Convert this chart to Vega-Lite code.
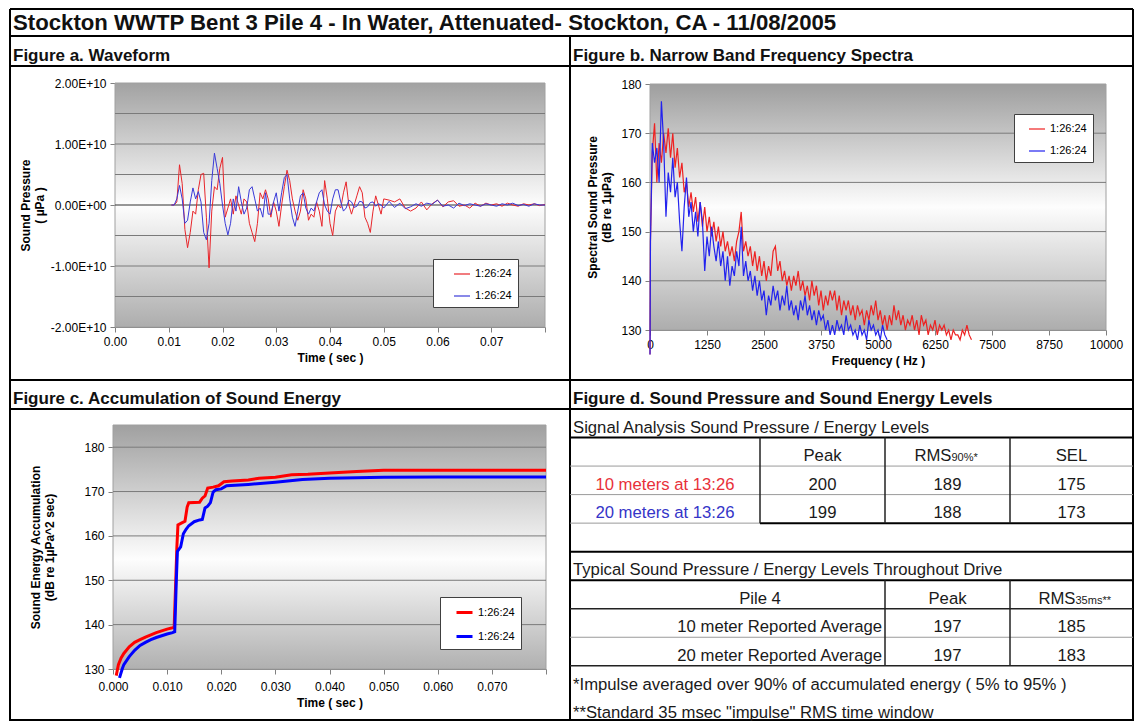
{
"$schema": "https://vega.github.io/schema/vega-lite/v6.json",
"padding": {"left": 9, "top": 8, "right": 2, "bottom": 2},
"background": "white",
"columns": 2,
"spacing": 0,
"bounds": "flush",
"align": "each",
"resolve": {"scale": {"color": "independent"}, "legend": {"color": "independent"}},
"config": {
  "font": "Liberation Sans",
  "view": {"stroke": "#000000", "strokeWidth": 2},
  "axis": {"labelFont": "Liberation Sans", "labelFontSize": 12, "labelColor": "#000000", "titleFont": "Liberation Sans", "titleFontSize": 12, "titleFontWeight": "bold", "titleColor": "#000000", "domainColor": "#808080", "tickColor": "#808080", "grid": false, "tickSize": 5, "labelPadding": 4, "labelFlush": false, "labelOverlap": false, "zindex": 1},
  "legend": {"symbolType": "stroke", "labelFont": "Liberation Sans", "labelFontSize": 11, "labelColor": "#000000", "padding": 6, "rowPadding": 8, "symbolSize": 256, "labelOffset": 4, "strokeColor": "#404040", "fillColor": "#ffffff", "cornerRadius": 0}
},
"datasets": {
  "wave": [
    {"t":0.0105,"r":0,"b":0},{"t":0.011,"r":0,"b":0},{"t":0.0115,"r":0.05e10,"b":0.1e10},{"t":0.012,"r":0.66e10,"b":0.32e10},
    {"t":0.0125,"r":0.35e10,"b":0.1e10},{"t":0.013,"r":-0.4e10,"b":-0.3e10},{"t":0.0135,"r":-0.7e10,"b":-0.25e10},{"t":0.014,"r":-0.45e10,"b":0.05e10},
    {"t":0.0145,"r":-0.1e10,"b":0.28e10},{"t":0.015,"r":-0.15e10,"b":0.1e10},{"t":0.0155,"r":0.25e10,"b":0.22e10},{"t":0.016,"r":0.5e10,"b":0.05e10},
    {"t":0.0165,"r":0.52e10,"b":-0.45e10},{"t":0.017,"r":-0.2e10,"b":-0.57e10},{"t":0.0175,"r":-1.03e10,"b":-0.3e10},{"t":0.018,"r":-0.1e10,"b":0.4e10},
    {"t":0.0185,"r":0.3e10,"b":0.85e10},{"t":0.019,"r":0.25e10,"b":0.6e10},{"t":0.0195,"r":0.6e10,"b":0.35e10},{"t":0.02,"r":0.78e10,"b":0},
    {"t":0.0205,"r":-0.2e10,"b":-0.3e10},{"t":0.021,"r":-0.05e10,"b":-0.49e10},{"t":0.0215,"r":0.1e10,"b":-0.3e10},{"t":0.022,"r":-0.15e10,"b":0.1e10},
    {"t":0.0225,"r":0.15e10,"b":-0.1e10},{"t":0.023,"r":0,"b":0.3e10},{"t":0.0235,"r":-0.15e10,"b":0.05e10},{"t":0.024,"r":0.1e10,"b":-0.15e10},
    {"t":0.0245,"r":0.05e10,"b":-0.05e10},{"t":0.025,"r":-0.3e10,"b":0.25e10},{"t":0.0255,"r":-0.45e10,"b":0.3e10},{"t":0.026,"r":-0.6e10,"b":0.1e10},
    {"t":0.0265,"r":-0.3e10,"b":-0.1e10},{"t":0.027,"r":0.2e10,"b":-0.05e10},{"t":0.0275,"r":0.1e10,"b":-0.2e10},{"t":0.028,"r":0.25e10,"b":0.2e10},
    {"t":0.0285,"r":0.1e10,"b":-0.15e10},{"t":0.029,"r":-0.2e10,"b":-0.15e10},{"t":0.0295,"r":0.05e10,"b":0.05e10},{"t":0.03,"r":-0.1e10,"b":0.2e10},
    {"t":0.0305,"r":-0.35e10,"b":-0.1e10},{"t":0.031,"r":0,"b":0.2e10},{"t":0.0315,"r":0.3e10,"b":0.45e10},{"t":0.032,"r":0.57e10,"b":0.5e10},
    {"t":0.0325,"r":0.4e10,"b":0.1e10},{"t":0.033,"r":0.1e10,"b":-0.2e10},{"t":0.0335,"r":-0.1e10,"b":-0.35e10},{"t":0.034,"r":-0.25e10,"b":-0.1e10},
    {"t":0.0345,"r":-0.1e10,"b":0.15e10},{"t":0.035,"r":0.25e10,"b":0.2e10},{"t":0.0355,"r":0.1e10,"b":-0.05e10},{"t":0.036,"r":-0.25e10,"b":-0.15e10},
    {"t":0.0365,"r":-0.15e10,"b":-0.05e10},{"t":0.037,"r":-0.2e10,"b":-0.1e10},{"t":0.0375,"r":0.05e10,"b":0.05e10},{"t":0.038,"r":-0.1e10,"b":0.2e10},
    {"t":0.0385,"r":-0.35e10,"b":0.25e10},{"t":0.039,"r":0.4e10,"b":0},{"t":0.0395,"r":0.1e10,"b":-0.1e10},{"t":0.04,"r":-0.3e10,"b":-0.15e10},
    {"t":0.0405,"r":-0.5e10,"b":0.1e10},{"t":0.041,"r":-0.1e10,"b":0.25e10},{"t":0.0415,"r":0,"b":0.25e10},{"t":0.042,"r":-0.05e10,"b":0.05e10},
    {"t":0.0425,"r":0.2e10,"b":-0.1e10},{"t":0.043,"r":0.38e10,"b":-0.05e10},{"t":0.0435,"r":0,"b":0.08e10},{"t":0.044,"r":-0.15e10,"b":0.05e10},
    {"t":0.0445,"r":0,"b":-0.04e10},{"t":0.045,"r":0.15e10,"b":-0.02e10},{"t":0.0455,"r":0.3e10,"b":0.06e10},{"t":0.046,"r":0.2e10,"b":0.05e10},
    {"t":0.0465,"r":-0.2e10,"b":-0.05e10},{"t":0.047,"r":-0.3e10,"b":-0.03e10},{"t":0.0475,"r":-0.45e10,"b":0.04e10},{"t":0.048,"r":-0.1e10,"b":0.05e10},
    {"t":0.0485,"r":0.15e10,"b":-0.02e10},{"t":0.049,"r":0,"b":0.02e10},{"t":0.0495,"r":-0.15e10,"b":0},{"t":0.05,"r":0.1e10,"b":-0.05e10},
    {"t":0.051,"r":0.08e10,"b":0.06e10},{"t":0.052,"r":0.05e10,"b":-0.04e10},{"t":0.053,"r":0.1e10,"b":0.03e10},{"t":0.054,"r":-0.05e10,"b":-0.06e10},
    {"t":0.055,"r":-0.1e10,"b":-0.03e10},{"t":0.056,"r":-0.05e10,"b":0.02e10},{"t":0.057,"r":0.05e10,"b":-0.02e10},{"t":0.058,"r":-0.08e10,"b":0.03e10},
    {"t":0.059,"r":0.02e10,"b":0.01e10},{"t":0.06,"r":0.08e10,"b":0.08e10},{"t":0.061,"r":-0.03e10,"b":-0.02e10},{"t":0.062,"r":0.05e10,"b":0},
    {"t":0.063,"r":0.07e10,"b":-0.05e10},{"t":0.064,"r":-0.02e10,"b":0.03e10},{"t":0.065,"r":0,"b":-0.01e10},{"t":0.066,"r":-0.05e10,"b":0.02e10},
    {"t":0.067,"r":0.03e10,"b":0},{"t":0.068,"r":-0.02e10,"b":-0.02e10},{"t":0.069,"r":0.03e10,"b":0.02e10},{"t":0.07,"r":0,"b":0},
    {"t":0.071,"r":0.02e10,"b":-0.02e10},{"t":0.072,"r":-0.02e10,"b":0.02e10},{"t":0.073,"r":0.03e10,"b":0},{"t":0.074,"r":0,"b":0.03e10},
    {"t":0.075,"r":-0.02e10,"b":-0.01e10},{"t":0.076,"r":0.02e10,"b":0.01e10},{"t":0.077,"r":0,"b":-0.02e10},{"t":0.078,"r":0.02e10,"b":0.02e10},
    {"t":0.079,"r":-0.01e10,"b":0},{"t":0.08,"r":0.01e10,"b":0}
  ],
  "spec": [
    {"f":0,"r":125,"b":125},{"f":10,"r":148,"b":148},{"f":50,"r":166,"b":168},{"f":100,"r":172,"b":164},{"f":150,"r":160,"b":167},
    {"f":200,"r":168,"b":160},{"f":250,"r":164,"b":176.5},{"f":300,"r":170,"b":168},{"f":350,"r":166,"b":153},{"f":400,"r":171,"b":162},
    {"f":450,"r":165,"b":158},{"f":500,"r":170,"b":165},{"f":550,"r":163,"b":157},{"f":600,"r":167,"b":160},{"f":650,"r":161,"b":152},
    {"f":700,"r":164,"b":146},{"f":750,"r":158,"b":155},{"f":800,"r":160,"b":161},{"f":850,"r":155,"b":153},{"f":900,"r":158,"b":156},
    {"f":950,"r":154,"b":150},{"f":1000,"r":157,"b":154},{"f":1050,"r":152,"b":149},{"f":1100,"r":156,"b":156},{"f":1150,"r":151,"b":152},
    {"f":1200,"r":155,"b":142},{"f":1250,"r":150,"b":149},{"f":1300,"r":153,"b":145},{"f":1350,"r":149,"b":151},{"f":1400,"r":152,"b":147},
    {"f":1450,"r":148,"b":144},{"f":1500,"r":151,"b":148},{"f":1550,"r":147,"b":143},{"f":1600,"r":150,"b":146},{"f":1650,"r":146,"b":140},
    {"f":1700,"r":148,"b":145},{"f":1750,"r":145,"b":139},{"f":1800,"r":147,"b":143},{"f":1850,"r":144,"b":141},{"f":1900,"r":148,"b":146},
    {"f":1950,"r":150,"b":143},{"f":2000,"r":154,"b":151},{"f":2050,"r":146,"b":141},{"f":2100,"r":148,"b":144},{"f":2150,"r":145,"b":140},
    {"f":2200,"r":147,"b":142},{"f":2250,"r":143,"b":138},{"f":2300,"r":146,"b":141},{"f":2350,"r":142,"b":137},{"f":2400,"r":145,"b":140},
    {"f":2450,"r":141,"b":136},{"f":2500,"r":144,"b":138},{"f":2550,"r":140,"b":133},{"f":2600,"r":143,"b":137},{"f":2650,"r":141,"b":135},
    {"f":2700,"r":146,"b":139},{"f":2750,"r":147,"b":136},{"f":2800,"r":142,"b":138},{"f":2850,"r":144,"b":134},{"f":2900,"r":140,"b":137},
    {"f":2950,"r":142,"b":135},{"f":3000,"r":139,"b":139},{"f":3050,"r":141,"b":134},{"f":3100,"r":138,"b":136},{"f":3150,"r":141,"b":133},
    {"f":3200,"r":139,"b":135},{"f":3250,"r":142,"b":132},{"f":3300,"r":138,"b":136},{"f":3350,"r":140,"b":134},{"f":3400,"r":137,"b":137},
    {"f":3450,"r":139,"b":133},{"f":3500,"r":136,"b":135},{"f":3550,"r":140,"b":132},{"f":3600,"r":137,"b":134},{"f":3650,"r":139,"b":131},
    {"f":3700,"r":135,"b":134},{"f":3750,"r":138,"b":132},{"f":3800,"r":134,"b":133},{"f":3850,"r":137,"b":130},{"f":3900,"r":135,"b":132},
    {"f":3950,"r":138,"b":129},{"f":4000,"r":136,"b":131},{"f":4050,"r":138,"b":129},{"f":4100,"r":134,"b":132},{"f":4150,"r":137,"b":130},
    {"f":4200,"r":133,"b":131},{"f":4250,"r":136,"b":129},{"f":4300,"r":134,"b":133},{"f":4350,"r":136,"b":130},{"f":4400,"r":133,"b":131},
    {"f":4450,"r":135,"b":129},{"f":4500,"r":132,"b":130},{"f":4550,"r":135,"b":128},{"f":4600,"r":133,"b":131},{"f":4650,"r":134,"b":129},
    {"f":4700,"r":131,"b":130},{"f":4750,"r":134,"b":128},{"f":4800,"r":132,"b":132},{"f":4850,"r":135,"b":130},{"f":4900,"r":133,"b":131},
    {"f":4950,"r":136,"b":129},{"f":5000,"r":132,"b":130},{"f":5050,"r":134,"b":128},{"f":5100,"r":131,"b":131},{"f":5150,"r":133,"b":129},
    {"f":5200,"r":130,"b":128},{"f":5250,"r":133},{"f":5300,"r":131},{"f":5350,"r":135},{"f":5400,"r":132},{"f":5450,"r":134},
    {"f":5500,"r":131},{"f":5550,"r":133},{"f":5600,"r":130},{"f":5650,"r":132},{"f":5700,"r":131},{"f":5750,"r":133},{"f":5800,"r":130},
    {"f":5850,"r":132},{"f":5900,"r":129},{"f":5950,"r":133},{"f":6000,"r":131},{"f":6050,"r":132},{"f":6100,"r":129},{"f":6150,"r":131},
    {"f":6200,"r":130},{"f":6250,"r":132},{"f":6300,"r":129},{"f":6350,"r":131},{"f":6400,"r":130},{"f":6450,"r":131},{"f":6500,"r":129},
    {"f":6550,"r":130},{"f":6600,"r":128},{"f":6650,"r":130},{"f":6700,"r":129},{"f":6750,"r":129},{"f":6800,"r":128},{"f":6850,"r":130},
    {"f":6900,"r":129},{"f":6950,"r":131},{"f":7000,"r":129},{"f":7050,"r":128}
  ],
  "acc": [
    {"t":0.0006,"s":"r","db":128.5},{"t":0.001,"s":"r","db":131},{"t":0.0015,"s":"r","db":132.5},{"t":0.002,"s":"r","db":133.5},
    {"t":0.003,"s":"r","db":135},{"t":0.004,"s":"r","db":136},{"t":0.005,"s":"r","db":136.6},{"t":0.006,"s":"r","db":137.2},
    {"t":0.007,"s":"r","db":137.7},{"t":0.008,"s":"r","db":138.2},{"t":0.009,"s":"r","db":138.6},{"t":0.01,"s":"r","db":139},
    {"t":0.011,"s":"r","db":139.3},{"t":0.0113,"s":"r","db":139.4},{"t":0.0116,"s":"r","db":150},{"t":0.0118,"s":"r","db":157.5},
    {"t":0.012,"s":"r","db":162.5},{"t":0.0128,"s":"r","db":163},{"t":0.0133,"s":"r","db":163.3},{"t":0.0137,"s":"r","db":166.5},
    {"t":0.014,"s":"r","db":167.5},{"t":0.016,"s":"r","db":167.6},{"t":0.0165,"s":"r","db":168.5},{"t":0.017,"s":"r","db":169},
    {"t":0.0175,"s":"r","db":170.8},{"t":0.0185,"s":"r","db":171},{"t":0.0195,"s":"r","db":171.3},{"t":0.0205,"s":"r","db":172.2},
    {"t":0.022,"s":"r","db":172.4},{"t":0.025,"s":"r","db":172.6},{"t":0.027,"s":"r","db":173},{"t":0.03,"s":"r","db":173.2},
    {"t":0.033,"s":"r","db":173.8},{"t":0.036,"s":"r","db":173.9},{"t":0.04,"s":"r","db":174.2},{"t":0.045,"s":"r","db":174.5},
    {"t":0.05,"s":"r","db":174.8},{"t":0.06,"s":"r","db":174.8},{"t":0.07,"s":"r","db":174.8},{"t":0.08,"s":"r","db":174.8},
    {"t":0.0012,"s":"b","db":128},{"t":0.0017,"s":"b","db":130},{"t":0.002,"s":"b","db":131},{"t":0.003,"s":"b","db":132.8},
    {"t":0.004,"s":"b","db":134.2},{"t":0.005,"s":"b","db":135.3},{"t":0.006,"s":"b","db":136},{"t":0.007,"s":"b","db":136.6},
    {"t":0.008,"s":"b","db":137.1},{"t":0.009,"s":"b","db":137.5},{"t":0.01,"s":"b","db":137.9},{"t":0.011,"s":"b","db":138.2},
    {"t":0.0114,"s":"b","db":138.4},{"t":0.0117,"s":"b","db":150},{"t":0.0119,"s":"b","db":156.5},{"t":0.0125,"s":"b","db":157.5},
    {"t":0.013,"s":"b","db":160.5},{"t":0.0135,"s":"b","db":161.5},{"t":0.014,"s":"b","db":162.3},{"t":0.015,"s":"b","db":163.2},
    {"t":0.016,"s":"b","db":163.6},{"t":0.0165,"s":"b","db":163.7},{"t":0.017,"s":"b","db":166.3},{"t":0.0175,"s":"b","db":166.7},
    {"t":0.018,"s":"b","db":167.5},{"t":0.0185,"s":"b","db":169.9},{"t":0.019,"s":"b","db":170.4},{"t":0.02,"s":"b","db":170.6},
    {"t":0.021,"s":"b","db":171.3},{"t":0.025,"s":"b","db":171.6},{"t":0.03,"s":"b","db":172.1},{"t":0.035,"s":"b","db":172.7},
    {"t":0.04,"s":"b","db":173},{"t":0.05,"s":"b","db":173.2},{"t":0.06,"s":"b","db":173.3},{"t":0.07,"s":"b","db":173.3},{"t":0.08,"s":"b","db":173.3}
  ],
  "tlines": [
    {"dir":"h","k":"major","at":0.5,"from":0,"to":4},
    {"dir":"h","k":"minor","at":1.5,"from":0,"to":4},
    {"dir":"h","k":"minor","at":2.5,"from":0,"to":4},
    {"dir":"h","k":"major","at":3.5,"from":1,"to":4},
    {"dir":"h","k":"minor","at":3.5,"from":0,"to":1},
    {"dir":"h","k":"major","at":4.5,"from":0,"to":4},
    {"dir":"h","k":"major","at":5.5,"from":0,"to":4},
    {"dir":"h","k":"mid","at":6.5,"from":0,"to":4},
    {"dir":"h","k":"minor","at":7.5,"from":0,"to":4},
    {"dir":"h","k":"mid","at":8.5,"from":0,"to":4},
    {"dir":"v","k":"mid","at":1,"from":0.5,"to":3.5},
    {"dir":"v","k":"mid","at":2,"from":0.5,"to":3.5},
    {"dir":"v","k":"mid","at":3,"from":0.5,"to":3.5},
    {"dir":"v","k":"mid","at":2,"from":5.5,"to":8.5},
    {"dir":"v","k":"mid","at":3,"from":5.5,"to":8.5}
  ],
  "cells": [
    {"row":0,"col":0,"txt":"Signal Analysis Sound Pressure / Energy Levels","role":"caption"},
    {"row":1,"col":1.5,"txt":"Peak","role":"cell"},
    {"row":1,"col":2.5,"txt":"RMS","role":"rms"},
    {"row":1,"col":2.5,"txt":"90%*","role":"sub"},
    {"row":1,"col":3.5,"txt":"SEL","role":"cell"},
    {"row":2,"col":0.5,"txt":"10 meters at 13:26","role":"cell","who":"10 m"},
    {"row":2,"col":1.5,"txt":"200","role":"cell"},
    {"row":2,"col":2.5,"txt":"189","role":"cell"},
    {"row":2,"col":3.5,"txt":"175","role":"cell"},
    {"row":3,"col":0.5,"txt":"20 meters at 13:26","role":"cell","who":"20 m"},
    {"row":3,"col":1.5,"txt":"199","role":"cell"},
    {"row":3,"col":2.5,"txt":"188","role":"cell"},
    {"row":3,"col":3.5,"txt":"173","role":"cell"},
    {"row":5,"col":0,"txt":"Typical Sound Pressure / Energy Levels Throughout Drive","role":"caption"},
    {"row":6,"col":1,"txt":"Pile 4","role":"cell"},
    {"row":6,"col":2.5,"txt":"Peak","role":"cell"},
    {"row":6,"col":3.5,"txt":"RMS","role":"rms"},
    {"row":6,"col":3.5,"txt":"35ms**","role":"sub"},
    {"row":7,"col":2,"txt":"10 meter Reported Average","role":"rowlabel"},
    {"row":7,"col":2.5,"txt":"197","role":"cell"},
    {"row":7,"col":3.5,"txt":"185","role":"cell"},
    {"row":8,"col":2,"txt":"20 meter Reported Average","role":"rowlabel"},
    {"row":8,"col":2.5,"txt":"197","role":"cell"},
    {"row":8,"col":3.5,"txt":"183","role":"cell"},
    {"row":9,"col":0,"txt":"*Impulse averaged over 90% of accumulated energy ( 5% to 95% )","role":"caption"},
    {"row":10,"col":0,"txt":"**Standard 35 msec \"impulse\" RMS time window","role":"caption"}
  ]
},
"concat": [
  {
    "width": 560, "height": 27,
    "view": {"stroke": null},
    "layer": [
      {
        "data": {"values": [{"label": "Stockton WWTP Bent 3 Pile 4 - In Water, Attenuated- Stockton, CA - 11/08/2005"}]},
        "mark": {"type": "text", "align": "left", "baseline": "alphabetic", "dx": 3, "dy": 7.5, "fontSize": 22.2, "fontWeight": "bold", "color": "#111111"},
        "encoding": {
          "x": {"datum": 0, "type": "quantitative", "scale": {"domain": [0, 1]}, "axis": null},
          "y": {"datum": 0.5, "type": "quantitative", "scale": {"domain": [0, 1]}, "axis": null},
          "text": {"field": "label"}
        }
      },
      {
        "data": {"values": [{"edge": "top"}]},
        "mark": {"type": "rule", "color": "#000000", "strokeWidth": 2},
        "encoding": {"y": {"datum": 1, "type": "quantitative", "axis": null}}
      },
      {
        "data": {"values": [{"edge": "left"}]},
        "mark": {"type": "rule", "color": "#000000", "strokeWidth": 2},
        "encoding": {"x": {"datum": 0, "type": "quantitative", "axis": null}}
      }
    ]
  },
  {
    "width": 563, "height": 27,
    "view": {"stroke": null},
    "layer": [
      {
        "data": {"values": [{"edge": "top"}]},
        "mark": {"type": "rule", "color": "#000000", "strokeWidth": 2},
        "encoding": {"y": {"datum": 1, "type": "quantitative", "scale": {"domain": [0, 1]}, "axis": null}}
      },
      {
        "data": {"values": [{"edge": "right"}]},
        "mark": {"type": "rule", "color": "#000000", "strokeWidth": 2},
        "encoding": {"x": {"datum": 1, "type": "quantitative", "scale": {"domain": [0, 1]}, "axis": null}}
      }
    ]
  },
  {
    "width": 560, "height": 30,
    "data": {"values": [{"label": "Figure a. Waveform"}]},
    "mark": {"type": "text", "align": "left", "baseline": "alphabetic", "dx": 3, "dy": 10, "fontSize": 17, "fontWeight": "bold", "color": "#111111"},
    "encoding": {
      "x": {"datum": 0, "type": "quantitative", "scale": {"domain": [0, 1]}, "axis": null},
      "y": {"datum": 0.5, "type": "quantitative", "scale": {"domain": [0, 1]}, "axis": null},
      "text": {"field": "label"}
    }
  },
  {
    "width": 563, "height": 30,
    "data": {"values": [{"label": "Figure b. Narrow Band Frequency Spectra"}]},
    "mark": {"type": "text", "align": "left", "baseline": "alphabetic", "dx": 3, "dy": 10, "fontSize": 17, "fontWeight": "bold", "color": "#111111"},
    "encoding": {
      "x": {"datum": 0, "type": "quantitative", "scale": {"domain": [0, 1]}, "axis": null},
      "y": {"datum": 0.5, "type": "quantitative", "scale": {"domain": [0, 1]}, "axis": null},
      "text": {"field": "label"}
    }
  },
  {
    "width": 560, "height": 314,
    "layer": [
      {
        "data": {"values": [{"region": "plot area"}]},
        "mark": {"type": "rect", "fill": {"x1": 0, "y1": 0, "x2": 0, "y2": 1, "gradient": "linear", "stops": [{"offset": 0, "color": "#a2a2a2"}, {"offset": 0.5, "color": "#fdfdfd"}, {"offset": 1, "color": "#adadad"}]}, "stroke": "#a0a0a0", "strokeWidth": 1},
        "encoding": {
          "x": {"datum": 0, "type": "quantitative"},
          "x2": {"datum": 0.08},
          "y": {"datum": -2e10, "type": "quantitative"},
          "y2": {"datum": 2e10}
        }
      },
      {
        "data": {"values": [{"g": -1.5e10}, {"g": -1e10}, {"g": -0.5e10}, {"g": 0}, {"g": 0.5e10}, {"g": 1e10}, {"g": 1.5e10}]},
        "mark": {"type": "rule", "strokeWidth": 1},
        "encoding": {
          "y": {"field": "g", "type": "quantitative"},
          "x": {"datum": 0, "type": "quantitative"},
          "x2": {"datum": 0.08},
          "color": {"condition": {"test": "datum.g == 0", "value": "#303030"}, "value": "#7a7a7a"}
        }
      },
      {
        "data": {"name": "wave"},
        "transform": [{"fold": ["r", "b"], "as": ["s", "p"]}],
        "mark": {"type": "line", "strokeWidth": 1, "clip": true},
        "encoding": {
          "x": {"field": "t", "type": "quantitative", "scale": {"domain": [0, 0.08], "range": [105, 535], "nice": false, "zero": false},
            "axis": {"title": "Time ( sec )", "values": [0,0.005,0.01,0.015,0.02,0.025,0.03,0.035,0.04,0.045,0.05,0.055,0.06,0.065,0.07,0.075,0.08],
              "labelExpr": "(round(datum.value*1000) % 10 == 0 && datum.value < 0.075) ? format(datum.value, '.2f') : ''",
              "offset": -53, "titlePadding": 5}},
          "y": {"field": "p", "type": "quantitative", "scale": {"domain": [-2e10, 2e10], "range": [261, 17], "nice": false, "zero": false},
            "axis": {"title": ["Sound Pressure", "( µPa )"], "values": [-2e10, -1e10, 0, 1e10, 2e10],
              "labelExpr": "datum.value == 0 ? '0.00E+00' : (datum.value < 0 ? '-' : '') + format(abs(datum.value) / 10000000000, '.2f') + 'E+10'",
              "offset": -105, "titlePadding": 4}},
          "color": {"field": "s", "type": "nominal", "scale": {"domain": ["r", "b"], "range": ["#e8262b", "#3a3ad8"]},
            "legend": {"orient": "none", "legendX": 423, "legendY": 193, "title": null, "labelExpr": "'1:26:24'", "symbolOffset": 14, "symbolStrokeWidth": 1.2}}
        }
      }
    ]
  },
  {
    "width": 563, "height": 314,
    "layer": [
      {
        "data": {"values": [{"region": "plot area"}]},
        "mark": {"type": "rect", "fill": {"x1": 0, "y1": 0, "x2": 0, "y2": 1, "gradient": "linear", "stops": [{"offset": 0, "color": "#9e9e9e"}, {"offset": 0.5, "color": "#fdfdfd"}, {"offset": 1, "color": "#adadad"}]}, "stroke": "#a0a0a0", "strokeWidth": 1},
        "encoding": {
          "x": {"datum": 0, "type": "quantitative"},
          "x2": {"datum": 10000},
          "y": {"datum": 130, "type": "quantitative"},
          "y2": {"datum": 180}
        }
      },
      {
        "data": {"values": [{"g": 140}, {"g": 150}, {"g": 160}, {"g": 170}]},
        "mark": {"type": "rule", "strokeWidth": 1, "color": "#7a7a7a"},
        "encoding": {
          "y": {"field": "g", "type": "quantitative"},
          "x": {"datum": 0, "type": "quantitative"},
          "x2": {"datum": 10000}
        }
      },
      {
        "data": {"name": "spec"},
        "transform": [{"fold": ["r", "b"], "as": ["s", "db"]}, {"filter": "isValid(datum.db)"}],
        "mark": {"type": "line", "strokeWidth": 1.2, "clip": true},
        "encoding": {
          "x": {"field": "f", "type": "quantitative", "scale": {"domain": [0, 10000], "range": [80, 536], "nice": false, "zero": false},
            "axis": {"title": "Frequency ( Hz )", "values": [0,625,1250,1875,2500,3125,3750,4375,5000,5625,6250,6875,7500,8125,8750,9375,10000],
              "labelExpr": "datum.value % 1250 == 0 ? format(datum.value, 'd') : ''",
              "offset": -50, "titlePadding": 5}},
          "y": {"field": "db", "type": "quantitative", "scale": {"domain": [130, 180], "range": [264, 18], "nice": false, "zero": false},
            "axis": {"title": ["Spectral Sound Pressure", "(dB re 1µPa)"], "values": [130, 140, 150, 160, 170, 180],
              "offset": -80, "titlePadding": 7}},
          "color": {"field": "s", "type": "nominal", "scale": {"domain": ["r", "b"], "range": ["#ee2222", "#2222ee"]},
            "legend": {"orient": "none", "legendX": 444, "legendY": 48, "title": null, "labelExpr": "'1:26:24'", "symbolOffset": 8, "symbolStrokeWidth": 1.2}}
        }
      }
    ]
  },
  {
    "width": 560, "height": 29,
    "data": {"values": [{"label": "Figure c. Accumulation of Sound Energy"}]},
    "mark": {"type": "text", "align": "left", "baseline": "alphabetic", "dx": 3, "dy": 9.5, "fontSize": 17, "fontWeight": "bold", "color": "#111111"},
    "encoding": {
      "x": {"datum": 0, "type": "quantitative", "scale": {"domain": [0, 1]}, "axis": null},
      "y": {"datum": 0.5, "type": "quantitative", "scale": {"domain": [0, 1]}, "axis": null},
      "text": {"field": "label"}
    }
  },
  {
    "width": 563, "height": 29,
    "data": {"values": [{"label": "Figure d. Sound Pressure and Sound Energy Levels"}]},
    "mark": {"type": "text", "align": "left", "baseline": "alphabetic", "dx": 3, "dy": 9.5, "fontSize": 17, "fontWeight": "bold", "color": "#111111"},
    "encoding": {
      "x": {"datum": 0, "type": "quantitative", "scale": {"domain": [0, 1]}, "axis": null},
      "y": {"datum": 0.5, "type": "quantitative", "scale": {"domain": [0, 1]}, "axis": null},
      "text": {"field": "label"}
    }
  },
  {
    "width": 560, "height": 311,
    "layer": [
      {
        "data": {"values": [{"region": "plot area"}]},
        "mark": {"type": "rect", "fill": {"x1": 0, "y1": 0, "x2": 0, "y2": 1, "gradient": "linear", "stops": [{"offset": 0, "color": "#a0a0a0"}, {"offset": 0.55, "color": "#fdfdfd"}, {"offset": 1, "color": "#b0b0b0"}]}, "stroke": "#a0a0a0", "strokeWidth": 1},
        "encoding": {
          "x": {"datum": 0, "type": "quantitative"},
          "x2": {"datum": 0.08},
          "y": {"datum": 130, "type": "quantitative"},
          "y2": {"datum": 185}
        }
      },
      {
        "data": {"values": [{"g": 140}, {"g": 150}, {"g": 160}, {"g": 170}, {"g": 180}]},
        "mark": {"type": "rule", "strokeWidth": 1, "color": "#7a7a7a"},
        "encoding": {
          "y": {"field": "g", "type": "quantitative"},
          "x": {"datum": 0, "type": "quantitative"},
          "x2": {"datum": 0.08}
        }
      },
      {
        "data": {"name": "acc"},
        "mark": {"type": "line", "strokeWidth": 3, "clip": true},
        "encoding": {
          "x": {"field": "t", "type": "quantitative", "scale": {"domain": [0, 0.08], "range": [103, 536], "nice": false, "zero": false},
            "axis": {"title": "Time ( sec )", "values": [0,0.005,0.01,0.015,0.02,0.025,0.03,0.035,0.04,0.045,0.05,0.055,0.06,0.065,0.07,0.075,0.08],
              "labelExpr": "(round(datum.value*1000) % 10 == 0 && datum.value < 0.075) ? format(datum.value, '.3f') : ''",
              "offset": -51, "labelPadding": 7, "titlePadding": 5}},
          "y": {"field": "db", "type": "quantitative", "scale": {"domain": [130, 185], "range": [260, 16], "nice": false, "zero": false},
            "axis": {"title": ["Sound Energy Accumulation", "(dB re 1µPa^2 sec)"], "values": [130, 140, 150, 160, 170, 180],
              "offset": -103, "titlePadding": 27}},
          "color": {"field": "s", "type": "nominal", "scale": {"domain": ["r", "b"], "range": ["#ff0000", "#0000ff"]},
            "legend": {"orient": "none", "legendX": 430, "legendY": 188, "title": null, "labelExpr": "'1:26:24'", "symbolOffset": 9, "symbolStrokeWidth": 3}}
        }
      }
    ]
  },
  {
    "width": 563, "height": 311,
    "layer": [
      {
        "data": {"name": "tlines"},
        "transform": [{"filter": "datum.dir == 'h' && datum.k == 'major'"}],
        "mark": {"type": "rule", "strokeWidth": 2, "color": "#000000"},
        "encoding": {
          "x": {"field": "from", "type": "quantitative", "scale": {"domain": [0, 1, 2, 3, 4], "range": [0, 190, 315, 440, 563], "nice": false, "zero": false}, "axis": null},
          "x2": {"field": "to"},
          "y": {"field": "at", "type": "quantitative", "scale": {"domain": [-0.5, 10.4], "range": [0, 311], "nice": false, "zero": false}, "axis": null}
        }
      },
      {
        "data": {"name": "tlines"},
        "transform": [{"filter": "datum.dir == 'h' && datum.k == 'mid'"}],
        "mark": {"type": "rule", "strokeWidth": 1.5, "color": "#222222"},
        "encoding": {
          "x": {"field": "from", "type": "quantitative", "axis": null},
          "x2": {"field": "to"},
          "y": {"field": "at", "type": "quantitative", "axis": null}
        }
      },
      {
        "data": {"name": "tlines"},
        "transform": [{"filter": "datum.dir == 'h' && datum.k == 'minor'"}],
        "mark": {"type": "rule", "strokeWidth": 1, "color": "#9a9a9a"},
        "encoding": {
          "x": {"field": "from", "type": "quantitative", "axis": null},
          "x2": {"field": "to"},
          "y": {"field": "at", "type": "quantitative", "axis": null}
        }
      },
      {
        "data": {"name": "tlines"},
        "transform": [{"filter": "datum.dir == 'v'"}],
        "mark": {"type": "rule", "strokeWidth": 1.5, "color": "#222222"},
        "encoding": {
          "x": {"field": "at", "type": "quantitative", "axis": null},
          "y": {"field": "from", "type": "quantitative", "axis": null},
          "y2": {"field": "to"}
        }
      },
      {
        "data": {"name": "cells"},
        "transform": [{"filter": "datum.role == 'caption'"}],
        "mark": {"type": "text", "align": "left", "baseline": "alphabetic", "dx": 3, "dy": 9.5, "fontSize": 16.7, "color": "#1a1a1a"},
        "encoding": {
          "x": {"field": "col", "type": "quantitative", "axis": null},
          "y": {"field": "row", "type": "quantitative", "axis": null},
          "text": {"field": "txt"}
        }
      },
      {
        "data": {"name": "cells"},
        "transform": [{"filter": "datum.role == 'cell'"}],
        "mark": {"type": "text", "align": "center", "baseline": "alphabetic", "dy": 9.5, "fontSize": 16.7},
        "encoding": {
          "x": {"field": "col", "type": "quantitative", "axis": null},
          "y": {"field": "row", "type": "quantitative", "axis": null},
          "text": {"field": "txt"},
          "color": {"condition": [{"test": "datum.who == '10 m'", "value": "#e8313a"}, {"test": "datum.who == '20 m'", "value": "#3535c8"}], "value": "#1a1a1a"}
        }
      },
      {
        "data": {"name": "cells"},
        "transform": [{"filter": "datum.role == 'rowlabel'"}],
        "mark": {"type": "text", "align": "right", "baseline": "alphabetic", "dx": -3, "dy": 9.5, "fontSize": 16.7, "color": "#1a1a1a"},
        "encoding": {
          "x": {"field": "col", "type": "quantitative", "axis": null},
          "y": {"field": "row", "type": "quantitative", "axis": null},
          "text": {"field": "txt"}
        }
      },
      {
        "data": {"name": "cells"},
        "transform": [{"filter": "datum.role == 'rms'"}],
        "mark": {"type": "text", "align": "right", "baseline": "alphabetic", "dx": 4, "dy": 9.5, "fontSize": 16.7, "color": "#1a1a1a"},
        "encoding": {
          "x": {"field": "col", "type": "quantitative", "axis": null},
          "y": {"field": "row", "type": "quantitative", "axis": null},
          "text": {"field": "txt"}
        }
      },
      {
        "data": {"name": "cells"},
        "transform": [{"filter": "datum.role == 'sub'"}],
        "mark": {"type": "text", "align": "left", "baseline": "alphabetic", "dx": 4, "dy": 9.5, "fontSize": 11, "color": "#1a1a1a"},
        "encoding": {
          "x": {"field": "col", "type": "quantitative", "axis": null},
          "y": {"field": "row", "type": "quantitative", "axis": null},
          "text": {"field": "txt"}
        }
      }
    ]
  }
]
}
